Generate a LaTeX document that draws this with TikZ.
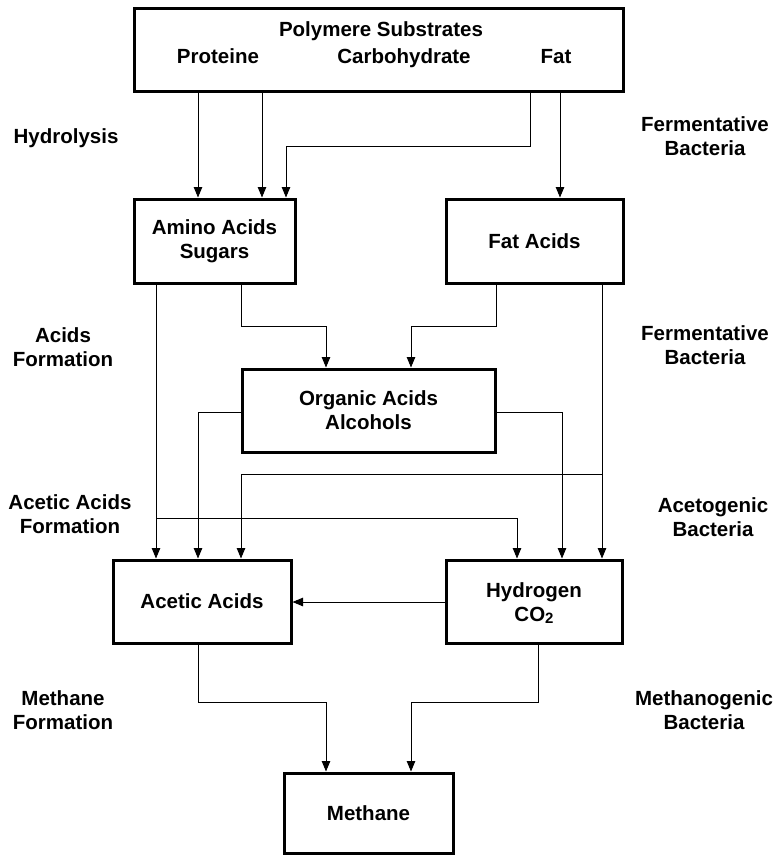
\documentclass[tikz,border=0pt]{standalone}
\usepackage{fontspec}
\setmainfont{Liberation Sans}
\usetikzlibrary{arrows.meta}

\begin{document}
\begin{tikzpicture}[x=1pt,y=-1pt,
  txt/.style={font=\fontsize{20.5}{24}\selectfont\bfseries, align=center, inner sep=0pt},
  box/.style={txt, draw, line width=3pt, minimum width=#1},
  conn/.style={line width=0.9pt, line join=miter},
  arr/.style={conn, -{Triangle[width=8.5pt,length=10.5pt]}},
]
\useasboundingbox (0,0) rectangle (774,856);

% process stages (boxes)
\node[box=489pt, minimum height=83pt] (top) at (378.5,50.5) {};
\node[txt, anchor=base] (ttl)  at (381,37) {Polymere Substrates};
\node[txt, anchor=base] (prot) at (218,63.5) {Proteine};
\node[txt, anchor=base] (carb) at (404,63.5) {Carbohydrate};
\node[txt, anchor=base] (fat)  at (556,63.5) {Fat};

\node[box=161pt, minimum height=84pt] (amino)    at (214.5,241)   {Amino Acids\\Sugars};
\node[box=177pt, minimum height=84pt] (fatacids) at (534.5,241)   {Fat Acids};
\node[box=253pt, minimum height=83pt] (organic)  at (368.5,410.5) {Organic Acids\\Alcohols};
\node[box=178pt, minimum height=83pt] (acetic)   at (202,601.5)   {Acetic Acids};
\node[box=176pt, minimum height=83pt] (hydrogen) at (534,601.5)   {};
\node[txt] (h2)  at (534,603) {Hydrogen\\CO{\fontsize{15}{15}\selectfont\raisebox{-1.5pt}{2}}};
\node[box=169pt, minimum height=80pt] (methane)  at (368.5,813)   {Methane};

% phase labels (left) and organisms (right)
\node[txt] (l1) at (66,138)  {Hydrolysis};
\node[txt] (l2) at (63,347)  {Acids\\Formation};
\node[txt] (l3) at (70,514)  {Acetic Acids\\Formation};
\node[txt] (l4) at (63,710)  {Methane\\Formation};
\node[txt] (r1) at (705,136) {Fermentative\\Bacteria};
\node[txt] (r2) at (705,345) {Fermentative\\Bacteria};
\node[txt] (r3) at (713,517) {Acetogenic\\Bacteria};
\node[txt] (r4) at (704,710) {Methanogenic\\Bacteria};

% routing columns and rows
\foreach \c in {156,198,241,262,286,326,411,496,517,530,538,560,562,602}
  \coordinate (X\c) at (\c,0);
\foreach \r in {146,326,412,474,518,602,702}
  \coordinate (Y\r) at (0,\r);

% hydrolysis
\draw[arr] (top.south -| X198) -- (amino.north -| X198);
\draw[arr] (top.south -| X262) -- (amino.north -| X262);
\draw[arr] (top.south -| X530) -- (X530 |- Y146) -- (X286 |- Y146) -- (amino.north -| X286);
\draw[arr] (top.south -| X560) -- (fatacids.north -| X560);

% acid formation
\draw[arr] (amino.south -| X241) -- (X241 |- Y326) -- (X326 |- Y326) -- (organic.north -| X326);
\draw[arr] (fatacids.south -| X496) -- (X496 |- Y326) -- (X411 |- Y326) -- (organic.north -| X411);

% acetic acid formation
\draw[arr] (amino.south -| X156) -- (acetic.north -| X156);
\draw[arr] (fatacids.south -| X602) -- (hydrogen.north -| X602);
\coordinate (j1) at (X602 |- Y474);
\draw[arr] (j1) -- (X241 |- Y474) -- (acetic.north -| X241);
\draw[arr] (organic.west |- Y412) -- (X198 |- Y412) -- (acetic.north -| X198);
\draw[arr] (organic.east |- Y412) -- (X562 |- Y412) -- (hydrogen.north -| X562);
\coordinate (j2) at (X156 |- Y518);
\draw[arr] (j2) -- (X517 |- Y518) -- (hydrogen.north -| X517);
\draw[arr] (hydrogen.west |- Y602) -- (acetic.east |- Y602);

% methane formation
\draw[arr] (acetic.south -| X198) -- (X198 |- Y702) -- (X326 |- Y702) -- (methane.north -| X326);
\draw[arr] (hydrogen.south -| X538) -- (X538 |- Y702) -- (X411 |- Y702) -- (methane.north -| X411);
\end{tikzpicture}
\end{document}
